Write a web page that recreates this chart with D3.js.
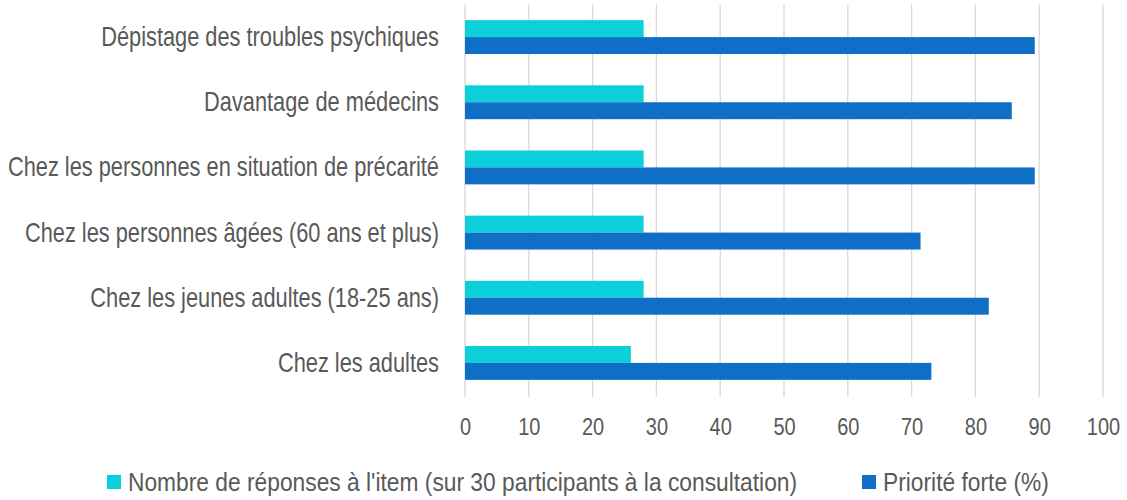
<!DOCTYPE html>
<html>
<head>
<meta charset="utf-8">
<script src="https://cdn.jsdelivr.net/npm/d3@7"></script>
<style>
  body { margin: 0; background: #fff; }
  text { font-family: "Liberation Sans", Arial, sans-serif; fill: #595959; }
</style>
</head>
<body>
<script>
var width = 1127,
    height = 500;

// categories top to bottom
var categories = [
  "Dépistage des troubles psychiques",
  "Davantage de médecins",
  "Chez les personnes en situation de précarité",
  "Chez les personnes âgées (60 ans et plus)",
  "Chez les jeunes adultes (18-25 ans)",
  "Chez les adultes"
];
var seriesNames = [
  "Nombre de réponses à l'item (sur 30 participants à la consultation)",
  "Priorité forte (%)"
];
var reponses = [28, 28, 28, 28, 28, 26];
var priorite = [89.3, 85.7, 89.3, 71.4, 82.1, 73.1];
var ticks = [0, 10, 20, 30, 40, 50, 60, 70, 80, 90, 100];
var colors = ["#0BD0D9", "#0F6FC6"];

var svg = d3.select("body")
            .append("svg")
            .attr("width", width)
            .attr("height", height);

var x = d3.scaleLinear().domain([0, 100]).range([465, 1103]);
var y = d3.scaleBand().domain(categories).range([4.5, 395.5]).paddingInner(0.48).paddingOuter(0.24);

// gridlines
svg.selectAll(".grid")
   .data(ticks)
   .enter()
   .append("line")
   .attr("x1", function(d){ return x(d); })
   .attr("x2", function(d){ return x(d); })
   .attr("y1", 4.5)
   .attr("y2", 397)
   .attr("stroke", "#d9d9d9")
   .attr("stroke-width", 1.3);

// tick labels (the source font is taller than it is wide, so stretch it a bit)
var xAxis = d3.axisBottom(x).tickValues(ticks).tickSize(0).tickPadding(0);
var gx = svg.append("g").attr("transform", "translate(0,427.5)").call(xAxis);
gx.select(".domain").remove();
gx.selectAll("text")
  .attr("y", 0)
  .attr("dy", "0.32em")
  .attr("transform", "scale(1,1.18)")
  .style("font-size", "20px")
  .style("font-family", "Liberation Sans, Arial, sans-serif")
  .attr("fill", "#595959");

// category labels
var yAxis = d3.axisLeft(y).tickSize(0).tickPadding(0);
var gy = svg.append("g").attr("transform", "translate(439,0)").call(yAxis);
gy.select(".domain").remove();
gy.selectAll(".tick").attr("transform", function(d){ return "translate(0," + (y(d) + y.bandwidth() / 2) + ")"; });
gy.selectAll("text")
  .attr("x", 0)
  .attr("transform", "scale(1,1.28)")
  .style("font-size", "21.8px")
  .style("font-family", "Liberation Sans, Arial, sans-serif")
  .attr("fill", "#595959");

var half = y.bandwidth() / 2;

svg.selectAll(".bar1")
   .data(categories)
   .enter()
   .append("rect")
   .attr("x", x(0))
   .attr("y", function(d){ return y(d); })
   .attr("width", function(d, i){ return x(reponses[i]) - x(0); })
   .attr("height", half)
   .attr("fill", colors[0]);

svg.selectAll(".bar2")
   .data(categories)
   .enter()
   .append("rect")
   .attr("x", x(0))
   .attr("y", function(d){ return y(d) + half; })
   .attr("width", function(d, i){ return x(priorite[i]) - x(0); })
   .attr("height", half)
   .attr("fill", colors[1]);

// legend
var legendX = [107, 862];
var leg = svg.selectAll(".leg")
   .data(seriesNames)
   .enter()
   .append("g")
   .attr("transform", function(d, i){ return "translate(" + legendX[i] + ",475)"; });
leg.append("rect")
   .attr("width", 14)
   .attr("height", 14)
   .attr("fill", function(d, i){ return colors[i]; });
leg.append("text")
   .attr("transform", "translate(21,16) scale(1,1.15)")
   .style("font-size", "22.8px")
   .text(function(d){ return d; });
</script>
</body>
</html>
